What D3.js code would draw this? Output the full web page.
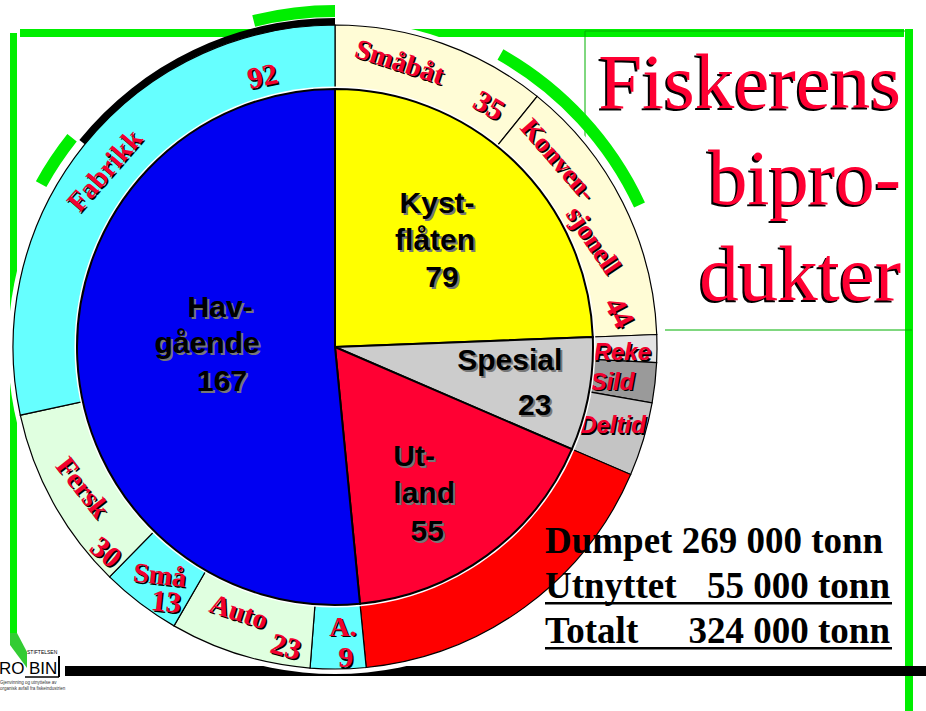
<!DOCTYPE html>
<html>
<head>
<meta charset="utf-8">
<script src="https://cdn.jsdelivr.net/npm/d3@7"></script>
<style>
  body { margin: 0; background: #fff; }
  svg { display: block; }
</style>
</head>
<body>
<div id="chart"></div>
<script>
// Inner pie: fleet groups (1000 tonn)
const innerNames = ['Kystflåten', 'Spesial', 'Utland', 'Havgående'];
const innerValues = [79, 23, 55, 167];
const innerColors = ['#ffff00', '#cccccc', '#ff0033', '#0000f2'];
const innerLines = [['Kyst-', 'flåten'], ['Spesial'], ['Ut-', 'land'], ['Hav-', 'gående']];

// Outer ring: sub groups, same order clockwise from 12 o'clock
const outerNames = ['Småbåt', 'Konvensjonell', 'Reke', 'Sild', 'Deltid', 'Utland', 'A.', 'Auto', 'Små', 'Fersk', 'Fabrikk'];
const outerValues = [35, 44, 4.5, 6.5, 12, 55, 9, 23, 13, 30, 92];
const outerColors = ['#fffcd6', '#fffcd6', '#e4e4e4', '#9a9a9a', '#c4c4c4', '#ff0000', '#66ffff', '#e0ffe0', '#66ffff', '#e0ffe0', '#66ffff'];

// Variable declarations
let
  w = 926, h = 711,
  cx = 335, cy = 347, // pie centre
  rIn = 258, // inner pie radius
  rOut = 322, // outer ring radius
  labelRed = '#f2002e',
  green = '#00ee00',
  serif = '"Liberation Serif", "Times New Roman", serif',
  sans = '"Liberation Sans", Arial, sans-serif',
  deg = d3.scaleLinear().domain([0, 360]).range([0, 2 * Math.PI]),
  polar = (a, r) => [cx + r * Math.sin(deg(a)), cy - r * Math.cos(deg(a))],
  valueOf = name => outerValues[outerNames.indexOf(name)];

const svg = d3.select('#chart').append('svg').attr('width', w).attr('height', h);

// draw a text twice, shadow first, rotated around its own anchor
function shadowText(g, txt, x, y, o) {
  const grp = g.append('g');
  [[o.sx, o.sy, o.shadow], [0, 0, o.fill]].forEach(([dx, dy, col]) => {
    grp.append('text')
      .attr('transform', 'translate(' + (x + dx) + ',' + (y + dy) + ') rotate(' + (o.rot || 0) + ')')
      .attr('text-anchor', o.anchor || 'middle')
      .attr('dy', o.dy == null ? '0.35em' : o.dy)
      .attr('font-family', o.font)
      .attr('font-size', o.size)
      .attr('font-weight', o.weight || 'bold')
      .attr('font-style', o.italic ? 'italic' : 'normal')
      .attr('fill', col)
      .text(txt);
  });
}

// ---- frame lines
svg.append('rect').attr('x', 10).attr('y', 33).attr('width', 7).attr('height', 602).attr('fill', green);
svg.append('rect').attr('x', 20).attr('y', 29).attr('width', 884).attr('height', 8).attr('fill', green);
svg.append('rect').attr('x', 905).attr('y', 29).attr('width', 8).attr('height', 682).attr('fill', green);
svg.append('rect').attr('x', 65).attr('y', 666).attr('width', 861).attr('height', 10).attr('fill', '#000');
svg.append('line').attr('x1', 585).attr('x2', 585).attr('y1', 31).attr('y2', 330).attr('stroke', '#00b000').attr('stroke-width', 1);
svg.append('line').attr('x1', 585).attr('x2', 905).attr('y1', 31).attr('y2', 31).attr('stroke', '#00b000').attr('stroke-width', 1);
svg.append('line').attr('x1', 665).attr('x2', 912).attr('y1', 330).attr('y2', 330).attr('stroke', '#00b000').attr('stroke-width', 1);

// ---- title
['Fiskerens', 'bipro-', 'dukter'].forEach((t, i) => {
  shadowText(svg, t, 901, 108 + i * 96, {font: serif, size: 79, fill: '#ff0033', shadow: '#000',
    sx: -2, sy: 2, anchor: 'end', dy: 0, weight: 'normal'});
});

// ---- pie
const pie = d3.pie().sort(null).value(d => d);
const innerArcs = pie(innerValues);
const outerArcs = pie(outerValues);

const g = svg.append('g').attr('transform', 'translate(' + cx + ',' + cy + ')');

// white halo behind the ring
g.append('circle').attr('r', rOut + 5).attr('fill', '#fff');

// outer ring
const ringArc = d3.arc().innerRadius(rIn).outerRadius(rOut);
g.selectAll('path.ring')
  .data(outerArcs)
  .enter()
  .append('path')
  .attr('class', 'ring')
  .attr('d', ringArc)
  .attr('fill', (d, i) => outerColors[i])
  .attr('stroke', '#000')
  .attr('stroke-width', 1.2);

// decorative arcs round the ring
const deco = [
  [-51, 0, rOut, rOut + 7, '#000'],
  [-61, -51.5, rOut + 8, rOut + 20, green],
  [-14, 0, rOut + 8, rOut + 20, green],
  [29.5, 65, rOut + 8, rOut + 20, green]
];
deco.forEach(([a0, a1, r0, r1, col]) => {
  g.append('path')
    .attr('d', d3.arc().innerRadius(r0).outerRadius(r1).startAngle(deg(a0)).endAngle(deg(a1))())
    .attr('fill', col);
});

// ring labels: [text, angle, radius, rotation, size]
const ringLabels = [
  [String(valueOf('Fabrikk')), 345, 281, -12, 30],
  ['Fabrikk', 307.5, 291, -49, 28],
  ['Småbåt', 12.8, 293, 18, 28],
  [String(valueOf('Småbåt')), 32.5, 287, 30, 30],
  ['Konven-', 50, 292, 49, 27],
  ['sjonell', 67.5, 280, 56, 27],
  [String(valueOf('Konvensjonell')), 83, 287, 62, 30],
  ['Fersk', 240.9, 288, 52, 28],
  [String(valueOf('Fersk')), 228.2, 307, 40, 30],
  ['Små', 217.6, 287, 6, 28],
  [String(valueOf('Små')), 213.6, 305, 6, 30],
  ['Auto', 200, 281, 18, 28],
  [String(valueOf('Auto')), 189.3, 303, 15, 30],
  ['A.', 178.4, 279, 0, 28],
  [String(valueOf('A.')), 178, 310, 0, 30]
];
ringLabels.forEach(([t, a, r, rot, size]) => {
  const [x, y] = polar(a, r);
  shadowText(svg, t, x, y, {font: serif, size: size, fill: labelRed, shadow: '#000', sx: 1.5, sy: 1.5, rot: rot});
});

// spesial sub labels start at the inner edge (baseline on the anchor)
[['Reke', 92.9], ['Sild', 99.5], ['Deltid', 109.5]].forEach(([t, a]) => {
  const [x, y] = polar(a, rIn + 1);
  shadowText(svg, t, x, y, {font: sans, size: 24, fill: labelRed, shadow: '#000', sx: 1.5, sy: 1.5,
    anchor: 'start', italic: true, dy: 0});
});

// inner pie on top
const g2 = svg.append('g').attr('transform', 'translate(' + cx + ',' + cy + ')');
g2.append('circle').attr('r', rIn + 2.5).attr('fill', '#fff');
const pieArc = d3.arc().innerRadius(0).outerRadius(rIn);
g2.selectAll('path.slice')
  .data(innerArcs)
  .enter()
  .append('path')
  .attr('class', 'slice')
  .attr('d', pieArc)
  .attr('fill', (d, i) => innerColors[i])
  .attr('stroke', '#000')
  .attr('stroke-width', 2);

// inner labels: anchor radius + per line offsets
const innerLayout = [
  {r: 140, off: [[5, -44], [3, -7], [10, 30]]},
  {r: 190, off: [[-12, -22], [13, 23]]},
  {r: 175, off: [[-24, -33], [-14, 4], [-11, 42]]},
  {r: 115, off: [[0, -46], [-13, -10], [2, 28]]}
];
innerArcs.forEach((d, i) => {
  const mid = (d.startAngle + d.endAngle) / 2;
  const [x, y] = polar(deg.invert(mid), innerLayout[i].r);
  const lines = innerLines[i].concat([String(innerValues[i])]);
  lines.forEach((t, j) => {
    const [dx, dy] = innerLayout[i].off[j];
    shadowText(svg, t, x + dx, y + dy, {font: sans, size: 30, fill: '#000', shadow: '#777', sx: 2, sy: 2});
  });
});

// ---- totals, bottom right
const fmt = d3.formatLocale({thousands: ' ', grouping: [3], decimal: ','}).format(',');
const total = d3.sum(innerValues);
const used = innerValues[innerNames.indexOf('Utland')];
const dumped = total - used;
const rows = [
  ['Dumpet', dumped, false],
  ['Utnyttet', used, true],
  ['Totalt', total, true]
];
rows.forEach(([lab, v, ul], i) => {
  const y = 553 + i * 45;
  const tf = svg.append('text').attr('y', y)
    .attr('font-family', serif).attr('font-size', 37).attr('font-weight', 'bold').attr('fill', '#000');
  if (i === 0) {
    tf.attr('x', 545).text(lab + ' ' + fmt(v * 1000) + ' tonn');
  } else {
    tf.attr('x', 545).text(lab);
    svg.append('text').attr('x', 890).attr('y', y).attr('text-anchor', 'end')
      .attr('font-family', serif).attr('font-size', 37).attr('font-weight', 'bold').attr('fill', '#000')
      .text(fmt(v * 1000) + ' tonn');
  }
  if (ul) {
    svg.append('rect').attr('x', 545).attr('y', y + 4).attr('width', 347).attr('height', 2.5).attr('fill', '#000');
  }
});

// ---- logo
const logo = svg.append('g');
logo.append('polygon').attr('points', '10,633 17,633 27,652 27,668 10,645').attr('fill', '#33cc33');
logo.append('text').attr('x', 27).attr('y', 654).attr('font-family', sans).attr('font-size', 5).attr('fill', '#000').text('STIFTELSEN');
logo.append('text').attr('x', -1).attr('y', 674).attr('font-family', sans).attr('font-size', 17).attr('fill', '#000').text('RO');
logo.append('text').attr('x', 29).attr('y', 674).attr('font-family', sans).attr('font-size', 17).attr('fill', '#000').text('BIN');
logo.append('line').attr('x1', 59).attr('x2', 59).attr('y1', 656).attr('y2', 677).attr('stroke', '#000').attr('stroke-width', 2);
logo.append('line').attr('x1', 25).attr('x2', 59).attr('y1', 677).attr('y2', 677).attr('stroke', '#000').attr('stroke-width', 1.5);
logo.append('text').attr('x', 0).attr('y', 684).attr('font-family', sans).attr('font-size', 4.5).attr('fill', '#333').text('Gjenvinning og utnyttelse av');
logo.append('text').attr('x', 0).attr('y', 690).attr('font-family', sans).attr('font-size', 4.5).attr('fill', '#333').text('organisk avfall fra fiskeindustrien');
</script>
</body>
</html>
